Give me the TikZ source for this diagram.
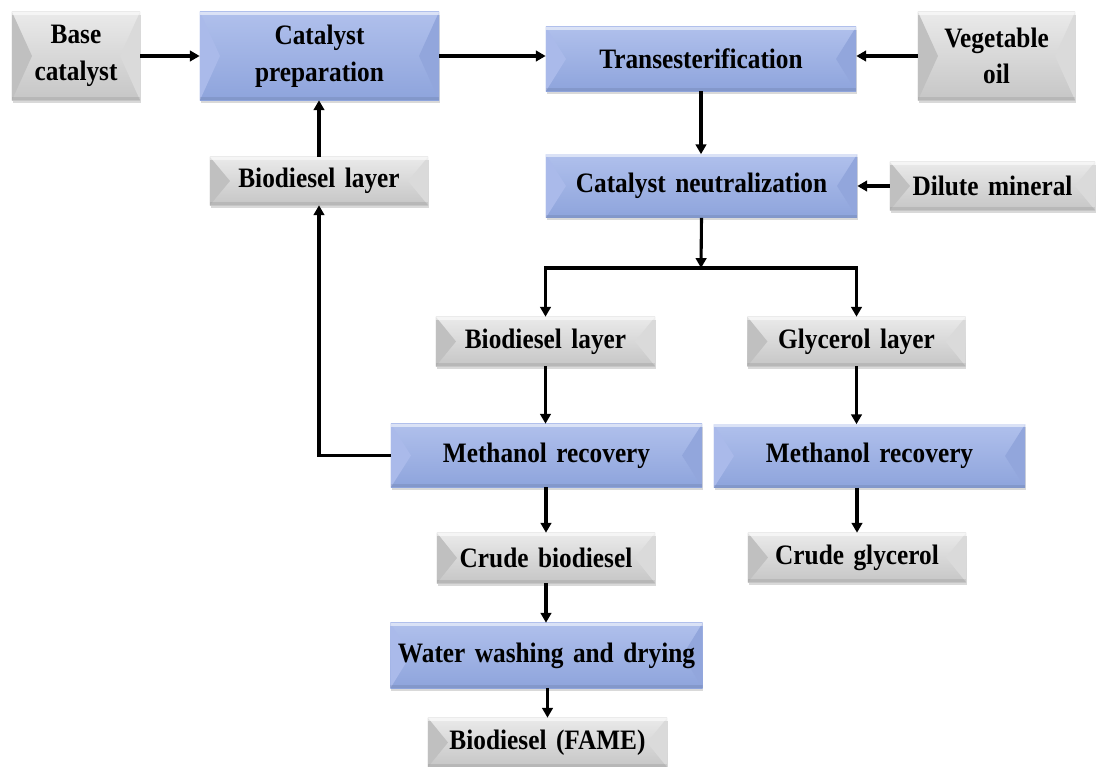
\documentclass[tikz,border=0pt]{standalone}
\usepackage{fontspec}
\setmainfont{Liberation Serif}[FakeStretch=0.9, WordSpace=1.5]
\usetikzlibrary{arrows.meta,shadows}

\definecolor{bluetop}{RGB}{176,192,236}
\definecolor{bluebot}{RGB}{142,164,220}
\definecolor{blueleft}{RGB}{170,186,234}
\definecolor{blueright}{RGB}{146,166,220}
\definecolor{graytop}{RGB}{234,234,234}
\definecolor{graybot}{RGB}{198,198,198}
\definecolor{grayleft}{RGB}{192,192,192}
\definecolor{grayright}{RGB}{218,218,218}

% bevelled sides of a box
\newcommand\bevelsides[2]{%
  \fill[#1] (path picture bounding box.north west) -- ([xshift=0.5cm]path picture bounding box.west) -- (path picture bounding box.south west) -- cycle;
  \fill[#2] (path picture bounding box.north east) -- ([xshift=-0.5cm]path picture bounding box.east) -- (path picture bounding box.south east) -- cycle;
  \fill[white,opacity=0.55] (path picture bounding box.north west) rectangle ([yshift=-0.07cm]path picture bounding box.north east);
  \fill[black,opacity=0.08] (path picture bounding box.south west) rectangle ([yshift=0.07cm]path picture bounding box.south east);
}

\tikzset{
  bevelbase/.style={inner sep=0pt, align=center,
    font=\fontsize{20}{26}\selectfont\bfseries,
    drop shadow={shadow xshift=0.6pt, shadow yshift=-2pt, opacity=0.3}},
  bluebox/.style={bevelbase, top color=bluetop, bottom color=bluebot,
    path picture={\bevelsides{blueleft}{blueright}}},
  graybox/.style={bevelbase, top color=graytop, bottom color=graybot,
    path picture={\bevelsides{grayleft}{grayright}}},
  flow/.style={line width=2.2pt, -{Triangle[length=7pt,width=7.5pt]}},
}

\begin{document}
\begin{tikzpicture}[x=0.025cm, y=-0.025cm]
    \useasboundingbox (0,0) rectangle (1098,767);

    % top row
    \node[graybox, minimum width=3.2cm, minimum height=2.2cm] (base) at (76,56) {Base\\catalyst};
    \node[bluebox, minimum width=5.975cm, minimum height=2.2cm] (prep) at (319.5,56) {Catalyst\\preparation};
    \node[bluebox, minimum width=7.75cm, minimum height=1.6cm] (trans) at (701,59) {Transesterification};
    \node[graybox, minimum width=3.925cm, minimum height=2.2cm] (veg) at (996.5,56) {Vegetable\\oil};

    % second row
    \node[graybox, minimum width=5.45cm, minimum height=1.2cm] (biotop) at (319,181) {Biodiesel layer};
    \node[bluebox, minimum width=7.775cm, minimum height=1.575cm] (neutral) at (701.5,186) {Catalyst neutralization};
    \node[graybox, minimum width=5.125cm, minimum height=1.2cm] (dilute) at (992.5,186) {Dilute mineral};

    % separation
    \node[graybox, minimum width=5.475cm, minimum height=1.225cm] (biomid) at (545.5,341.5) {Biodiesel layer};
    \node[graybox, minimum width=5.45cm, minimum height=1.225cm] (glyc) at (856.5,341.5) {Glycerol layer};
    \node[bluebox, minimum width=7.775cm, minimum height=1.575cm] (methL) at (546.5,455.5) {Methanol recovery};
    \node[bluebox, minimum width=7.775cm, minimum height=1.575cm] (methR) at (869.5,456) {Methanol recovery};
    \node[graybox, minimum width=5.45cm, minimum height=1.25cm] (cbio) at (546,558) {Crude biodiesel};
    \node[graybox, minimum width=5.45cm, minimum height=1.225cm] (cglyc) at (857,557.5) {Crude glycerol};
    \node[bluebox, minimum width=7.8cm, minimum height=1.625cm] (wash) at (546.5,655.5) {Water washing and drying};
    \node[graybox, minimum width=5.975cm, minimum height=1.225cm] (fame) at (547.5,742.5) {Biodiesel (FAME)};

    \coordinate (split) at (701,268);

    % connectors
    \draw[flow] (base.east |- prep.east) -- (prep.west);
    \draw[flow] (prep.east) -- (prep.east -| trans.west);
    \draw[flow] (veg.west) -- (veg.west -| trans.east);
    \draw[flow] (trans.south) -- (trans.south |- neutral.north);
    \draw[flow] (dilute.west) -- (dilute.west -| neutral.east);
    \draw[flow] (neutral.south) -- (split);
    \draw[flow] (split) -| (biomid.north);
    \draw[flow] (split) -| (glyc.north);
    \draw[flow] (biomid.south) -- (biomid.south |- methL.north);
    \draw[flow] (glyc.south) -- (glyc.south |- methR.north);
    \draw[flow] (methL.west) -| (biotop.south);
    \draw[flow] (biotop.north) -- (biotop.north |- prep.south);
    \draw[flow] (methL.south -| cbio.north) -- (cbio.north);
    \draw[flow] (methR.south -| cglyc.north) -- (cglyc.north);
    \draw[flow] (cbio.south) -- (cbio.south |- wash.north);
    \draw[flow] (wash.south -| fame.north) -- (fame.north);
\end{tikzpicture}
\end{document}
